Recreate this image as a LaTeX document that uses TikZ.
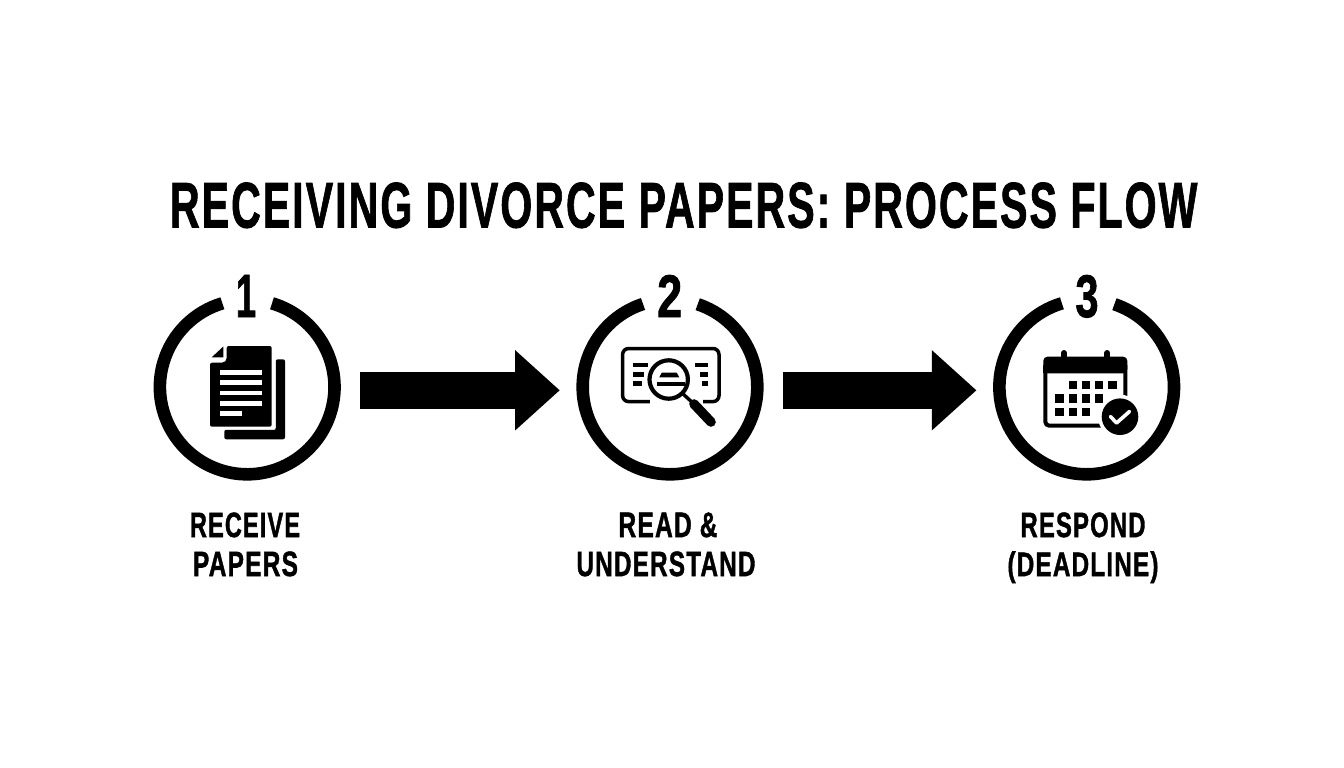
\documentclass[tikz,border=0pt]{standalone}
\usepackage{fontspec}
\usepackage{graphicx}
\usetikzlibrary{arrows.meta}
\newfontfamily\condfont[FakeBold=1.5,LetterSpace=5]{Liberation Sans Bold}
\newcommand{\fitbox}[3]{\resizebox{#1pt}{#2pt}{\condfont #3}}
\tikzset{
  every node/.style={inner sep=0pt, outer sep=0pt, text=black},
  ring/.style={draw=black, line width=12.6pt, line cap=butt},
  stepcircle/.style={circle, minimum size=187.2pt},
  flowarrow/.style={draw=black, line width=36.4pt, -{Triangle[length=44.7pt,width=77.5pt]}},
  whiteline/.style={draw=white, line width=4.6pt},
  blackline/.style={draw=black, line width=4.5pt},
}
\begin{document}
\begin{tikzpicture}[x=1pt,y=-1pt]
\useasboundingbox (0,0) rectangle (1344,768);
\fill[white] (0,0) rectangle (1344,768);

% title
\node[anchor=base west] (title) at (170,227.5) {\fitbox{1027}{45}{RECEIVING DIVORCE PAPERS: PROCESS FLOW}};

% circles
\node[stepcircle] (c1) at (247.2,387) {};
\node[stepcircle] (c2) at (670,387) {};
\node[stepcircle] (c3) at (1086.7,387) {};
\draw[ring] (c1.center) ++(-73.5:87.3) arc[start angle=-73.5,end angle=253.5,radius=87.3];
\draw[ring] (c2.center) ++(-71.5:87.3) arc[start angle=-71.5,end angle=252,radius=87.3];
\draw[ring] (c3.center) ++(-71.5:87.3) arc[start angle=-71.5,end angle=253.5,radius=87.3];

% numbers
\node[anchor=base] (n1) at (246,317) {\fitbox{20}{42}{1}};
\node[anchor=base] (n2) at (669.7,317) {\fitbox{25}{42}{2}};
\node[anchor=base] (n3) at (1087,317) {\fitbox{23}{42}{3}};

% arrows
\draw[flowarrow] ([xshift=19pt,yshift=-3.3pt]c1.east) -- ([xshift=-16.6pt,yshift=-3.3pt]c2.west);
\draw[flowarrow] ([xshift=19.4pt,yshift=-3.3pt]c2.east) -- ([xshift=-16.6pt,yshift=-3.3pt]c3.west);

% labels
\node[anchor=base] (l1a) at (245,537) {\fitbox{110}{24.5}{RECEIVE}};
\node[anchor=base] (l1b) at (245.5,576) {\fitbox{105}{24.5}{PAPERS}};
\node[anchor=base] (l2a) at (668,537) {\fitbox{99}{24.5}{READ \&}};
\node[anchor=base] (l2b) at (666,576) {\fitbox{179}{24.5}{UNDERSTAND}};
\node[anchor=base] (l3a) at (1083,537) {\fitbox{125}{24.5}{RESPOND}};
\node[anchor=base] (l3b) at (1083,576) {\fitbox{151}{24.5}{(DEADLINE)}};

% document icon
\fill[black, rounded corners=2pt] (224.3,429.8) -- (224.3,439.3) -- (285,439.3) -- (285,359.3) -- (275.8,359.3) -- (275.8,430) -- cycle;
\fill[black, rounded corners=2pt] (226.7,346) -- (271.7,346) -- (271.7,426.7) -- (210,426.7) -- (210,362.7) -- (224,362.7) -- (226.7,360) -- cycle;
\fill[black] (211.7,357.3) -- (223.3,346.5) -- (223.3,357.3) -- cycle;
\foreach \yy in {372.3,382.7,393,403.3} \draw[whiteline] (220,\yy) -- (262.3,\yy);
\draw[whiteline] (220,413.3) -- (242.3,413.3);

% magnifier icon
\draw[black, line width=3.5pt, rounded corners=6pt] (622.6,348.5) rectangle (719,401.6);
\fill[white] (650,398) rectangle (703,406);
\draw[blackline] (633.3,365) -- (648,365);
\draw[blackline] (633.3,374.3) -- (644,374.3);
\draw[blackline] (633.3,383.3) -- (641.7,383.3);
\draw[blackline] (695,365) -- (707.7,365);
\draw[blackline] (700,374.3) -- (707.7,374.3);
\draw[blackline] (701.7,383.3) -- (707.7,383.3);
\draw[black, line width=4.2pt, fill=white] (668.7,379.5) circle (19.2);
\draw[black, line width=3.4pt] (682,393) -- (694,404);
\draw[black, line width=9.6pt, line cap=round] (694,404) -- (711,422);
\fill[black] (661.7,372.7) -- (676.7,372.7) -- (679.3,377.3) -- (659.3,377.3) -- cycle;
\draw[black, line width=4pt] (656.7,383.7) -- (685,383.7);

% calendar icon
\draw[black, line width=4pt, rounded corners=4pt] (1045.3,362) rectangle (1125.3,425.7);
\fill[black, rounded corners=4pt] (1043.3,356.7) rectangle (1127.3,373.3);
\fill[black] (1043.3,366) rectangle (1127.3,373.3);
\draw[black, line width=6pt, line cap=round] (1064,353) -- (1064,358);
\draw[black, line width=6pt, line cap=round] (1107.3,353) -- (1107.3,358);
\foreach \xx/\yy in {1073/385,1086/385,1099/385,1112.3/385,
  1059.3/398.3,1073/398.3,1086/398.3,1099/398.3,
  1059.3/411.7,1073/411.7,1086/411.7} {
  \fill[black] (\xx-4.2,\yy-4.2) rectangle (\xx+4.2,\yy+4.2);
}
\fill[white] (1120,416.7) circle (22);
\fill[black] (1120,416.7) circle (18.3);
\draw[white, line width=3.6pt, line cap=round, line join=round] (1110.5,416.5) -- (1116.5,423) -- (1129.5,411.5);
\end{tikzpicture}
\end{document}
